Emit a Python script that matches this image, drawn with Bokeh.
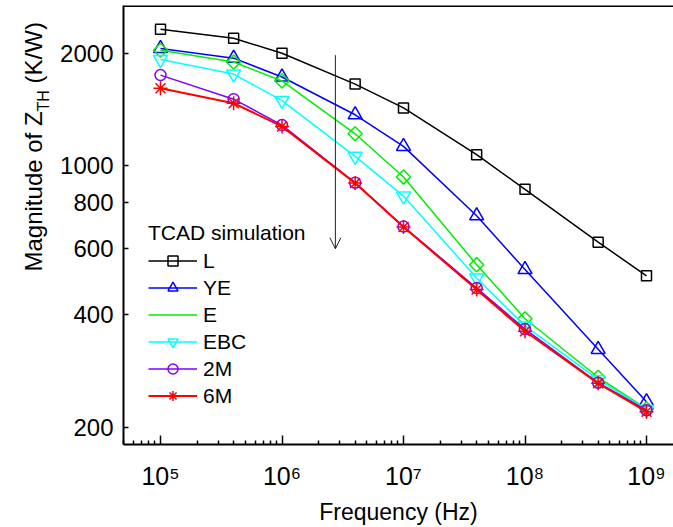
import math
from bokeh.plotting import figure
from bokeh.layouts import row
from bokeh.models import (FixedTicker, PrintfTickFormatter, Legend, LegendItem,
                          Label, Arrow, OpenHead, Range1d, Span)
from bokeh.embed import file_html
from bokeh.resources import INLINE

# ---------------- data ----------------
freq = [1e5, 4e5, 1e6, 4e6, 1e7, 4e7, 1e8, 4e8, 1e9]
z_L = [2317, 2193, 2000, 1654, 1428, 1071, 865, 625, 508]
z_YE = [2058, 1940, 1728, 1369, 1127, 735, 528, 323, 234]
z_E = [2037, 1895, 1686, 1218, 933, 544, 390, 272, 224]
z_EBC = [1924, 1759, 1494, 1060, 830, 501, 373, 268, 223]
z_2M = [1748, 1507, 1285, 901, 688, 471, 366, 263, 222]
z_6M = [1612, 1470, 1274, 899, 686, 467, 361, 262, 220]
series_names = ["L", "YE", "E", "EBC", "2M", "6M"]
legend_title = "TCAD simulation"
x_tick_exponents = [5, 6, 7, 8, 9]
y_ticks = [200, 400, 600, 800, 1000, 2000]
x_label = "Frequency (Hz)"
y_label_parts = ["Magnitude of Z", "TH", "(K/W)"]

series_values = {"L": z_L, "YE": z_YE, "E": z_E, "EBC": z_EBC, "2M": z_2M, "6M": z_6M}

FONT = "Liberation Sans"
Y_START, Y_END = 179.8, 2683
LW = 56          # width of the strip that carries the y-axis title
TOTAL_W, TOTAL_H = 673, 527

styles = {
    "L":   dict(color="#000000", marker="square", size=10, angle=0.0, lw=1.5),
    "YE":  dict(color="#0000ff", marker="triangle", size=14, angle=0.0, lw=1.5),
    "E":   dict(color="#00ee00", marker="square", size=10, angle=math.pi / 4, lw=1.5),
    "EBC": dict(color="#00ffff", marker="inverted_triangle", size=14, angle=0.0, lw=1.5),
    "2M":  dict(color="#8000ff", marker="circle", size=11, angle=0.0, lw=1.5),
    "6M":  dict(color="#ff0000", marker="asterisk", size=14, angle=0.0, lw=2.0),
}

p = figure(width=TOTAL_W - LW, height=TOTAL_H, x_axis_type="log", y_axis_type="log",
           x_range=Range1d(4.96e4, 1.668e9), y_range=Range1d(Y_START, Y_END),
           output_backend="svg", toolbar_location=None,
           min_border_left=123 - LW, min_border_right=0, min_border_top=5, min_border_bottom=80)
p.title.visible = False
p.outline_line_color = None
p.xgrid.visible = False
p.ygrid.visible = False

SUP = {"0": "\u2070", "1": "\u00b9", "2": "\u00b2", "3": "\u00b3", "4": "\u2074",
       "5": "\u2075", "6": "\u2076", "7": "\u2077", "8": "\u2078", "9": "\u2079"}

xa = p.xaxis[0]
xa.ticker = FixedTicker(ticks=[10.0 ** e for e in x_tick_exponents],
                        minor_ticks=[m * 10.0 ** e for e in range(4, 10) for m in range(2, 10)])
xa.major_label_overrides = {10.0 ** e: "10" + "".join(SUP[c] for c in str(e)) for e in x_tick_exponents}
xa.major_tick_in = 9
xa.major_tick_out = 0
xa.minor_tick_in = 4
xa.minor_tick_out = 0
xa.major_tick_line_width = 1.5
xa.minor_tick_line_width = 1.5
xa.axis_line_width = 2
xa.major_label_text_font = FONT
xa.major_label_text_font_size = "25px"
xa.major_label_text_color = "black"
xa.major_label_standoff = 17
xa.axis_label = x_label
xa.axis_label_text_font = FONT
xa.axis_label_text_font_size = "23px"
xa.axis_label_text_font_style = "normal"
xa.axis_label_text_color = "black"
xa.axis_label_standoff = 6

ya = p.yaxis[0]
ya.ticker = FixedTicker(ticks=y_ticks, minor_ticks=[])
ya.formatter = PrintfTickFormatter(format="%d")
ya.major_tick_in = 5
ya.major_tick_out = 0
ya.minor_tick_in = 0
ya.minor_tick_out = 0
ya.major_tick_line_width = 1.5
ya.axis_line_width = 2
ya.major_label_text_font = FONT
ya.major_label_text_font_size = "24px"
ya.major_label_text_color = "black"
ya.major_label_standoff = 10

# top frame line
p.add_layout(Span(location=Y_END, dimension="width", line_color="black", line_width=3))

items = []
for name in series_names:
    st = styles[name]
    vals = series_values[name]
    r_line = p.line(freq, vals, line_color=st["color"], line_width=st["lw"])
    r_mark = p.scatter(freq, vals, marker=st["marker"], size=st["size"], angle=st["angle"],
                       line_color=st["color"], fill_color=None, line_width=1.5)
    rs = [r_line, r_mark]
    if name == "E":
        r_leg = p.scatter(x=[], y=[], marker="diamond", line_color=st["color"],
                          fill_color=None, line_width=1.5)
        rs = [r_line, r_leg]
    items.append(LegendItem(label=name, renderers=rs))

legend = Legend(items=items, location=(25, 36), title=legend_title,
                border_line_color=None, background_fill_alpha=0, padding=0, margin=0,
                spacing=2, glyph_width=49, glyph_height=25, label_height=24,
                label_standoff=6, label_text_font=FONT, label_text_font_size="21px",
                label_text_color="black",
                title_text_font=FONT, title_text_font_size="21px", title_text_color="black",
                title_text_font_style="normal", title_standoff=3)
p.add_layout(legend)

p.add_layout(Arrow(x_start=2.75e6, y_start=1976, x_end=2.75e6, y_end=600,
                   line_color="#222222", line_width=1,
                   end=OpenHead(size=11, line_color="#222222", line_width=1)))

# ---------------- strip with the y-axis title (Z with subscript TH) ----------------
q = figure(width=LW, height=TOTAL_H, x_range=Range1d(0, 1), y_range=Range1d(0, 1),
           output_backend="svg", toolbar_location=None,
           x_axis_location=None, y_axis_location=None,
           min_border_left=0, min_border_right=0, min_border_top=0, min_border_bottom=0)
q.title.visible = False
q.outline_line_color = None
q.xgrid.visible = False
q.ygrid.visible = False

main_size = 24
sub_size = 16
y0 = 173
q.add_layout(Label(x=33, y=y0, x_units="screen", y_units="screen", text=y_label_parts[0],
                   angle=math.pi / 2, text_align="left", text_baseline="alphabetic",
                   text_font=FONT, text_font_size=f"{main_size}px", text_color="black"))
y1 = y0 + 6.67 * main_size
q.add_layout(Label(x=43, y=y1, x_units="screen", y_units="screen", text=y_label_parts[1],
                   angle=math.pi / 2, text_align="left", text_baseline="alphabetic",
                   text_font=FONT, text_font_size=f"{sub_size}px", text_color="black"))
y2 = y1 + 1.333 * sub_size + 0.278 * main_size
q.add_layout(Label(x=33, y=y2, x_units="screen", y_units="screen", text=y_label_parts[2],
                   angle=math.pi / 2, text_align="left", text_baseline="alphabetic",
                   text_font=FONT, text_font_size=f"{main_size}px", text_color="black"))

layout = row(q, p, spacing=0)
open("out.html", "w").write(file_html(layout, INLINE))
